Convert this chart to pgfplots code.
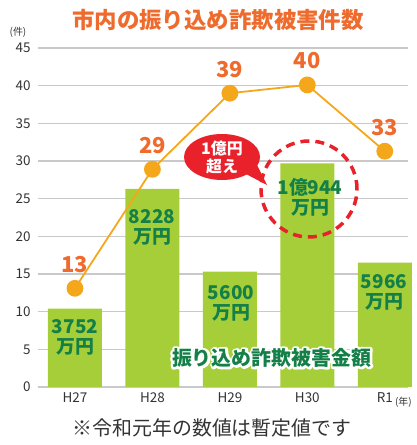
\documentclass[border=0pt]{standalone}
\usepackage{fontspec}
\setmainfont{Noto Sans CJK JP}
\usepackage{pgfplots}
\usepackage{pgfplotstable}
\pgfplotsset{compat=1.18}
\definecolor{barg}{RGB}{166,206,57}
\definecolor{lineo}{RGB}{245,167,28}
\definecolor{texto}{RGB}{238,107,45}
\definecolor{textg}{RGB}{20,128,72}
\definecolor{redc}{RGB}{232,33,43}
\definecolor{gridc}{RGB}{201,201,201}
\definecolor{tickc}{RGB}{51,51,51}
\pgfplotstableread{
x amount
0 10.4
1 26.3
2 15.3
3 29.7
4 16.5
}\amounttab
\pgfplotstableread{
x cases lab
0 13.1 13
1 28.9 29
2 39.0 39
3 40.1 40
4 31.3 33
}\casetab
\begin{document}
\begin{tikzpicture}[x=1bp,y=1bp]
\useasboundingbox (0,0) rectangle (416,445);
\begin{axis}[
  at={(38bp,58bp)}, anchor=south west,
  scale only axis, width=370bp, height=339bp,
  xmin=-0.477, xmax=4.30, ymin=0, ymax=45,
  axis line style={draw=none},
  ymajorgrids, grid style={gridc, line width=1.3bp},
  ytick={0,5,...,45}, xtick={0,1,2,3,4},
  xticklabels={H27,H28,H29,H30,R1},
  tick style={draw=none},
  ticklabel style={font=\fontsize{13.5}{14}\selectfont, text=tickc},
  /pgf/number format/assume math mode=true,
  yticklabel style={xshift=-4bp},
  xticklabel style={yshift=-2bp},
  clip=false,
]
\addplot[ybar, bar width=54bp, fill=barg, draw=none] table[x=x,y=amount]{\amounttab};
\addplot[lineo, line width=1.8bp, mark=*, mark size=7.5bp, mark options={fill=lineo, draw=lineo},
  point meta=explicit symbolic, nodes near coords,
  every node near coord/.style={anchor=center, yshift=24bp, text=texto, font=\fontsize{22}{22}\selectfont\bfseries}]
  table[x=x,y=cases,meta=lab]{\casetab};
\coordinate (gt) at (axis cs:2.54,3.85);
\node[font=\fontsize{10}{10}\selectfont, text=tickc] at (axis cs:4.24,0) [yshift=-15bp] {(年)};
\node[font=\fontsize{10}{10}\selectfont, text=tickc] at (axis cs:-0.477,45) [xshift=-20bp, yshift=16bp] {(件)};
\end{axis}
% decorations in picture coordinates (bp, origin bottom-left)
\draw[redc, line width=3.5bp, dash pattern=on 9bp off 6bp] (309,256) circle (48);
\fill[redc] (222,288) ellipse (38 and 23);
\fill[redc] (244,272) -- (267,260) -- (256,282) -- cycle;
\node[text=white, align=center, font=\fontsize{16}{18}\selectfont\bfseries] at (222,288) {1億円\\超え};
% bar labels
\begin{scope}[every node/.style={text=textg, align=center, font=\fontsize{19}{20}\selectfont\bfseries}]
\node at (75,108) {3752\\万円};
\node at (152,218) {8228\\万円};
\node at (231,142) {5600\\万円};
\node at (310,248) {1億944\\万円};
\node at (384,153) {5966\\万円};
\end{scope}
% title and footnote
\node[text=texto, font=\fontsize{22.5}{23}\selectfont\bfseries] at (218,425) {市内の振り込め詐欺被害件数};
\node[text=tickc, font=\fontsize{20}{20}\selectfont] at (212,17) {※令和元年の数値は暫定値です};
% outlined green text: white stroked glyphs under the green ones
\node[text=white, font=\fontsize{20}{20}\selectfont\bfseries] at (gt)
  {\special{pdf:code 1 Tr 4.5 w 1 j 1 J 1 1 1 RG}振り込め詐欺被害金額\special{pdf:code 0 Tr 1 w 0 j 0 J}};
\node[text=textg, font=\fontsize{20}{20}\selectfont\bfseries] at (gt) {振り込め詐欺被害金額};
\end{tikzpicture}
\end{document}
